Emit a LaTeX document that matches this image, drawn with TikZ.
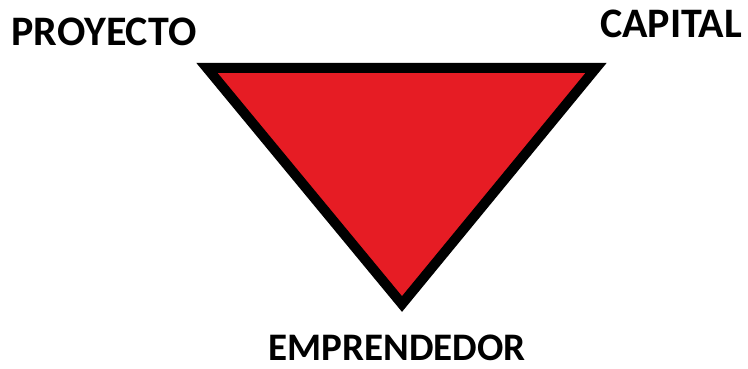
\documentclass[tikz,border=0pt]{standalone}
\usepackage{fontspec}
\setmainfont{Carlito}
\usetikzlibrary{positioning}
\definecolor{trired}{RGB}{230,28,36}

\begin{document}
\begin{tikzpicture}[x=1pt, y=-1pt,
  tri/.style={draw=black, fill=trired, line width=10pt, line join=miter},
  lab/.style={font=\bfseries\fontsize{42}{42}\selectfont, inner sep=0pt, anchor=base}]
\useasboundingbox (0,0) rectangle (748,369);
\coordinate (pl) at (207,68);
\coordinate (pr) at (596,68);
\coordinate (pb) at (402,304);
\draw[tri] (pl) -- (pr) -- (pb) -- cycle;
\node[lab] (proy) at (104,46) {PROYECTO};
\node[lab] (cap) at (671,38) {CAPITAL};
\node[lab, font=\bfseries\fontsize{39}{39}\selectfont] (emp) at (397,360) {EMPRENDEDOR};
\end{tikzpicture}
\end{document}
